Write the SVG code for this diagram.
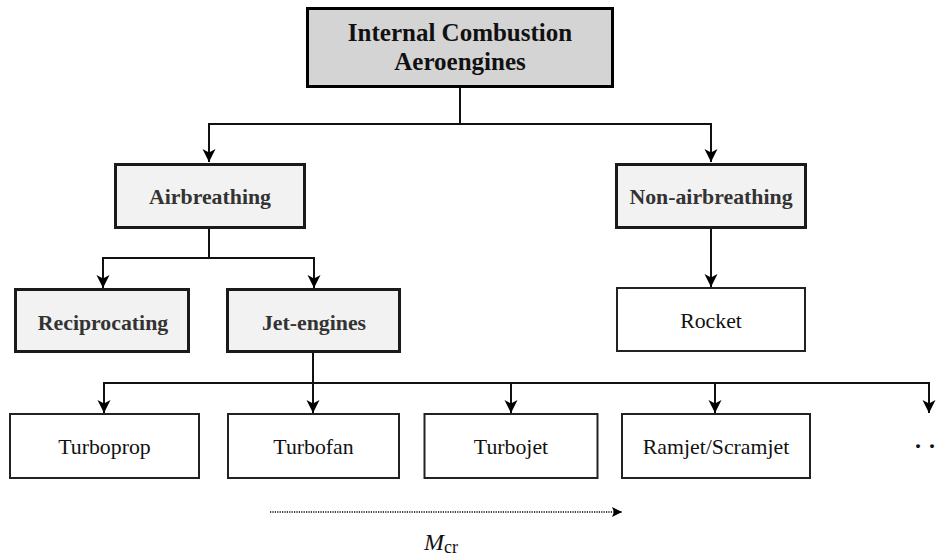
<svg xmlns="http://www.w3.org/2000/svg" width="941" height="556" viewBox="0 0 941 556">
<style>
.bold{font-family:"Liberation Serif","Times New Roman",serif;font-weight:bold;fill:#333;text-anchor:middle;font-size:21.8px}
.norm{font-family:"Liberation Serif","Times New Roman",serif;fill:#111;text-anchor:middle;font-size:21.8px}
.b1{fill:#f2f2f2;stroke:#1a1a1a;stroke-width:3}
.b2{fill:#fff;stroke:#222;stroke-width:2}
.c{fill:none;stroke:#111;stroke-width:2}
</style>
<defs>
<marker id="arr" markerUnits="userSpaceOnUse" markerWidth="16" markerHeight="16" refX="13" refY="6.5" orient="auto">
<path d="M0,0 L13,6.5 L0,13 L3.5,6.5 Z" fill="#000"/>
</marker>
<marker id="arr2" markerUnits="userSpaceOnUse" markerWidth="12" markerHeight="12" refX="10" refY="5" orient="auto">
<path d="M0,0 L10,5 L0,10 L2,5 Z" fill="#000"/>
</marker>
</defs>
<g id="connectors">
<path class="c" d="M460,87 V124 H209 V162" marker-end="url(#arr)"/>
<path class="c" d="M460,124 H711 V162" marker-end="url(#arr)"/>
<path class="c" d="M209,228 V258 H103 V288" marker-end="url(#arr)"/>
<path class="c" d="M209,258 H314 V288" marker-end="url(#arr)"/>
<path class="c" d="M711,228 V287" marker-end="url(#arr)"/>
<path class="c" d="M313,352 V383 H104 V413" marker-end="url(#arr)"/>
<path class="c" d="M313,383 V413" marker-end="url(#arr)"/>
<path class="c" d="M313,383 H929 V413" marker-end="url(#arr)"/>
<path class="c" d="M511,383 V413" marker-end="url(#arr)"/>
<path class="c" d="M715,383 V413" marker-end="url(#arr)"/>
<path d="M270,512 H622" fill="none" stroke="#000" stroke-width="1.5" stroke-dasharray="1.2,1.2" marker-end="url(#arr2)"/>
</g>
<g id="n-root">
<rect x="307.5" y="8.5" width="305" height="78" fill="#d4d4d4" stroke="#000" stroke-width="3"/>
<text class="bold" x="460" y="41" style="font-size:25px;fill:#111">Internal Combustion</text>
<text class="bold" x="460" y="70" style="font-size:25px;fill:#111">Aeroengines</text>
</g>
<g id="n-air">
<rect class="b1" x="115.5" y="164.5" width="189" height="63"/>
<text class="bold" x="210" y="204">Airbreathing</text>
</g>
<g id="n-nonair">
<rect class="b1" x="616.5" y="164.5" width="189" height="63"/>
<text class="bold" x="711" y="204">Non-airbreathing</text>
</g>
<g id="n-recip">
<rect class="b1" x="15.5" y="289.5" width="173" height="62"/>
<text class="bold" x="103" y="330">Reciprocating</text>
</g>
<g id="n-jet">
<rect class="b1" x="227.5" y="289.5" width="172" height="62"/>
<text class="bold" x="314" y="330">Jet-engines</text>
</g>
<g id="n-rocket">
<rect class="b2" x="617" y="288" width="188" height="63"/>
<text class="norm" x="711" y="328">Rocket</text>
</g>
<g id="n-turboprop">
<rect class="b2" x="10" y="414" width="189" height="64"/>
<text class="norm" x="104.5" y="454">Turboprop</text>
</g>
<g id="n-turbofan">
<rect class="b2" x="228" y="414" width="171" height="64"/>
<text class="norm" x="313.5" y="454">Turbofan</text>
</g>
<g id="n-turbojet">
<rect class="b2" x="424.5" y="414" width="173" height="64"/>
<text class="norm" x="511" y="454">Turbojet</text>
</g>
<g id="n-ramjet">
<rect class="b2" x="622" y="414" width="188" height="64"/>
<text class="norm" x="716" y="454">Ramjet/Scramjet</text>
</g>
<g id="n-more">
<text x="915 929" y="448" font-family="Liberation Serif, serif" font-weight="bold" font-size="24" fill="#111">..</text>
</g>
<g id="mcr">
<text x="424" y="550" font-family="Liberation Serif, serif" font-size="24" fill="#111"><tspan font-style="italic">M</tspan><tspan font-size="18" dy="3">cr</tspan></text>
</g>
</svg>
